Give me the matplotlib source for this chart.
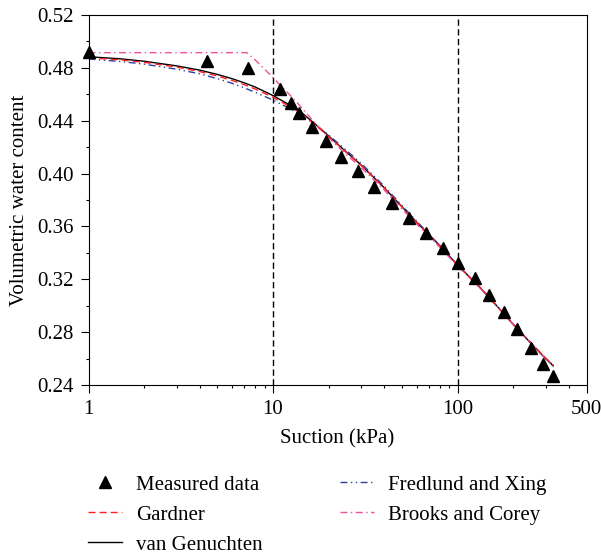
import matplotlib
matplotlib.use('Agg')
import matplotlib.pyplot as plt
from matplotlib.lines import Line2D
from matplotlib.ticker import FixedLocator, LogLocator, NullFormatter, MultipleLocator

# measured points
suction = [1, 4.37, 7.35, 10.9, 12.5, 13.9, 16.3, 19.4, 23.4, 28.8, 35.4, 44.3,
           54.6, 67.5, 83.1, 100.6, 124.4, 148.7, 178.6, 209.4, 249, 289.5, 330.5]
water_content = [0.4922, 0.4854, 0.4797, 0.4640, 0.4536, 0.4456, 0.4354, 0.4246,
                 0.4127, 0.4019, 0.3896, 0.3775, 0.3661, 0.3547, 0.3434, 0.3320,
                 0.3207, 0.3080, 0.2954, 0.2821, 0.2677, 0.2556, 0.2467]

# fitted curves
fit_suction = [1, 1.5, 2, 3, 4, 5, 6, 7, 8, 10, 12, 14, 17, 20, 25, 30, 40, 50,
               60, 80, 100, 130, 160, 200, 250, 300, 330]
gardner = [0.4876, 0.4860, 0.4842, 0.4806, 0.4772, 0.4738, 0.4705, 0.4672, 0.4640,
           0.4577, 0.4516, 0.4462, 0.4367, 0.4280, 0.4160, 0.4063, 0.3892, 0.3748,
           0.3632, 0.3455, 0.3307, 0.3150, 0.3013, 0.2862, 0.2718, 0.2604, 0.2550]
van_genuchten = [0.4884, 0.4868, 0.4850, 0.4815, 0.4783, 0.4750, 0.4718, 0.4686, 0.4655,
                 0.4590, 0.4528, 0.4472, 0.4372, 0.4285, 0.4162, 0.4065, 0.3893, 0.3748,
                 0.3632, 0.3455, 0.3308, 0.3150, 0.3012, 0.2860, 0.2715, 0.2600, 0.2545]
fredlund_xing = [0.4867, 0.4848, 0.4828, 0.4790, 0.4755, 0.4718, 0.4683, 0.4648, 0.4615,
                 0.4556, 0.4500, 0.4450, 0.4368, 0.4292, 0.4175, 0.4078, 0.3905, 0.3758,
                 0.3640, 0.3458, 0.3306, 0.3148, 0.3010, 0.2860, 0.2716, 0.2603, 0.2550]
bc_suction = [1, 7.2, 8, 9, 10, 11, 12, 13, 15, 17, 20, 25, 30, 40, 50, 60, 80, 100,
              130, 160, 200, 250, 300, 330]
brooks_corey = [0.4915, 0.4915, 0.4860, 0.4790, 0.4725, 0.4665, 0.4612, 0.4562, 0.4465,
                0.4378, 0.4272, 0.4142, 0.4046, 0.3876, 0.3732, 0.3618, 0.3443, 0.3300,
                0.3146, 0.3010, 0.2860, 0.2716, 0.2603, 0.2550]

x_ticks = [1, 10, 100, 500]
y_ticks = [0.24, 0.28, 0.32, 0.36, 0.40, 0.44, 0.48, 0.52]
boundaries = [10, 100]

plt.rcParams['font.family'] = ['Liberation Serif', 'DejaVu Serif']
plt.rcParams['font.size'] = 15

fig = plt.figure(figsize=(6.01, 5.57), dpi=100)
ax = fig.add_axes([0.1473, 0.3088, 0.8286, 0.6643])

for b in boundaries:
    ax.axvline(b, color='black', lw=1.0, linestyle=(0, (4.5, 2.5)), zorder=1)

ax.plot(fit_suction, gardner, color='#ff1f1f', lw=1.0, linestyle=(0, (5, 3)), zorder=3)
ax.plot(fit_suction, van_genuchten, color='black', lw=1.0, zorder=2)
ax.plot(fit_suction, fredlund_xing, color='#2f3fa0', lw=1.0,
        linestyle=(0, (5, 2.5, 1, 2.5, 1, 2.5)), zorder=2)
ax.plot(bc_suction, brooks_corey, color='#f0509c', lw=1.0,
        linestyle=(0, (5, 2.5, 1, 2.5)), zorder=2)
ax.plot(suction, water_content, linestyle='none', marker='^', markersize=8.5,
        color='black', zorder=4, clip_on=False)

ax.set_xscale('log')
ax.set_xlim(1, 500)
ax.set_ylim(0.24, 0.52)
ax.xaxis.set_major_locator(FixedLocator(x_ticks))
ax.set_xticklabels([str(t) for t in x_ticks])
ax.xaxis.set_minor_locator(LogLocator(base=10, subs=range(2, 10)))
ax.xaxis.set_minor_formatter(NullFormatter())
ax.set_yticks(y_ticks)
ax.set_yticklabels([f'{t:.2f}' for t in y_ticks])
ax.yaxis.set_minor_locator(MultipleLocator(0.02))

ax.tick_params(which='major', direction='out', length=5.5, width=0.8, pad=5, labelsize=15)
ax.tick_params(which='minor', direction='out', length=2.5, width=0.8)
for s in ax.spines.values():
    s.set_linewidth(0.8)

ax.set_xlabel('Suction (kPa)', fontsize=15, labelpad=8)
ax.set_ylabel('Volumetric water content', fontsize=15, labelpad=6)

h_meas = Line2D([], [], linestyle='none', marker='^', markersize=8.5, color='black')
h_gard = Line2D([], [], color='#ff1f1f', lw=1.0, linestyle=(0, (5, 3)))
h_vg = Line2D([], [], color='black', lw=1.0)
h_fx = Line2D([], [], color='#2f3fa0', lw=1.0, linestyle=(0, (5, 2.5, 1, 2.5, 1, 2.5)))
h_bc = Line2D([], [], color='#f0509c', lw=1.0, linestyle=(0, (5, 2.5, 1, 2.5)))

leg_kw = dict(frameon=False, fontsize=15, handlelength=1.65, handletextpad=0.65,
              labelspacing=0.5, borderpad=0, borderaxespad=0, loc='upper left')
leg1 = fig.legend([h_meas, h_gard, h_vg], ['Measured data', 'Gardner', 'van Genuchten'],
                  bbox_to_anchor=(88 / 601, 1 - 475 / 557), **leg_kw)
leg2 = fig.legend([h_fx, h_bc], ['Fredlund and Xing', 'Brooks and Corey'],
                  bbox_to_anchor=(340 / 601, 1 - 475 / 557), **leg_kw)

plt.savefig('out.png', dpi=100)
plt.close()
